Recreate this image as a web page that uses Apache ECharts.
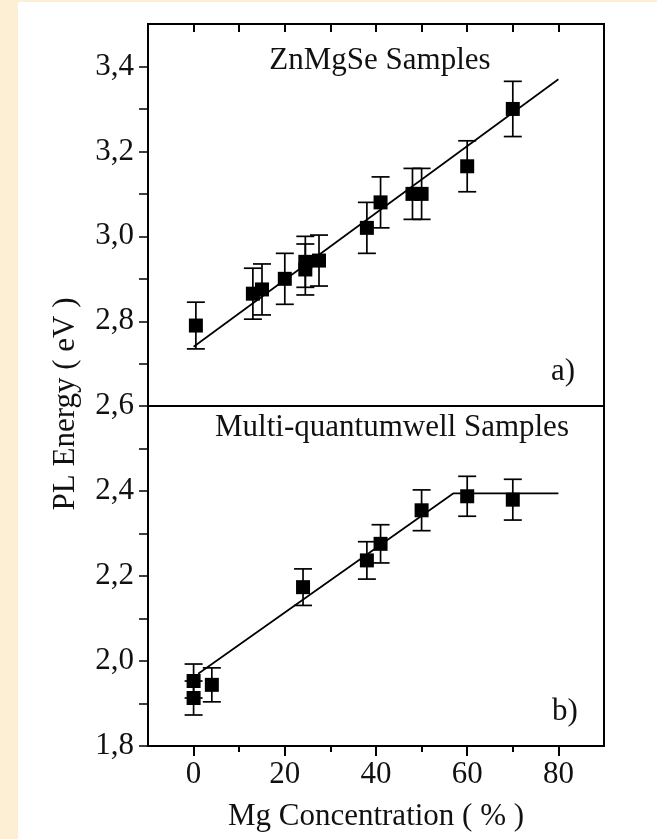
<!DOCTYPE html>
<html>
<head>
<meta charset="utf-8">
<script src="https://cdn.jsdelivr.net/npm/echarts@6/dist/echarts.min.js"></script>
<style>
  html, body { margin: 0; padding: 0; background: #fcefd3; width: 657px; height: 839px; overflow: hidden; }
  #chart { position: absolute; left: 18px; top: 2px; width: 639px; height: 837px; background: #ffffff; }
</style>
</head>
<body>
<div id="chart"></div>
<script>
// ---- Data ----
// Panel a) ZnMgSe samples
const xZn   = [0.5, 13, 15, 20, 24.5, 24.5, 27.5, 38, 41, 48, 50, 60, 70];
const yZn   = [2.79, 2.865, 2.875, 2.90, 2.922, 2.94, 2.943, 3.02, 3.08, 3.10, 3.10, 3.165, 3.30];
const errZn = [0.055, 0.06, 0.06, 0.06, 0.06, 0.06, 0.06, 0.06, 0.06, 0.06, 0.06, 0.06, 0.065];
const fitZnX = [0, 80];
const fitZnY = [2.74, 3.37];

// Panel b) Multi-quantumwell samples
const xMqw   = [0, 0, 4, 24, 38, 41, 50, 60, 70];
const yMqw   = [1.953, 1.913, 1.944, 2.174, 2.237, 2.276, 2.355, 2.388, 2.380];
const errMqw = [0.04, 0.04, 0.04, 0.043, 0.044, 0.045, 0.048, 0.047, 0.048];
const fitMqwX = [1, 57, 80];
const fitMqwY = [1.97, 2.395, 2.395];

// Panel divider
const dividerY = 2.6;

// Axes ticks
const xTickLabels = [0, 20, 40, 60, 80];
const xMinorTicks = [10, 30, 50, 70];
const xTopTicks   = [0, 10, 20, 30, 40, 50, 60, 70, 80];
const yTickLabels = [1.8, 2.0, 2.2, 2.4, 2.6, 2.8, 3.0, 3.2, 3.4];
const yAllTicks   = [1.8, 1.9, 2.0, 2.1, 2.2, 2.3, 2.4, 2.5, 2.6, 2.7, 2.8, 2.9, 3.0, 3.1, 3.2, 3.3, 3.4];

// Texts
const titleA = 'ZnMgSe Samples';
const titleB = 'Multi-quantumwell Samples';
const tagA = 'a)';
const tagB = 'b)';
const xName = 'Mg Concentration ( % )';
const yName = 'PL Energy ( eV )';

// ---- Build ----
const FONT = '"Liberation Serif", "Times New Roman", serif';
const FS = 31;
const INK = '#111';
const pts = (xs, ys) => xs.map((x, i) => [x, ys[i]]);
const errs = (xs, ys, es) => xs.map((x, i) => [x, ys[i] - es[i], ys[i] + es[i]]);

function errRender(params, api) {
  const x = api.value(0);
  const lo = api.coord([x, api.value(1)]);
  const hi = api.coord([x, api.value(2)]);
  const w = 9;
  const st = { stroke: '#000', lineWidth: 1.7 };
  return {
    type: 'group',
    children: [
      { type: 'line', shape: { x1: lo[0], y1: lo[1], x2: hi[0], y2: hi[1] }, style: st },
      { type: 'line', shape: { x1: hi[0] - w, y1: hi[1], x2: hi[0] + w, y2: hi[1] }, style: st },
      { type: 'line', shape: { x1: lo[0] - w, y1: lo[1], x2: lo[0] + w, y2: lo[1] }, style: st }
    ]
  };
}

const chart = echarts.init(document.getElementById('chart'), null, { renderer: 'canvas' });
const fmt = v => Number(v).toFixed(1).replace('.', ',');
const txt = (text, x, y, extra) => Object.assign({
  type: 'text', x: x, y: y,
  style: { text: text, font: FS + 'px ' + FONT, fill: INK, align: 'center', verticalAlign: 'middle' }
}, extra || {});

const option = {
  backgroundColor: '#ffffff',
  animation: false,
  textStyle: { fontFamily: FONT, color: INK },
  grid: { left: 130, right: 53, top: 22, bottom: 93, show: true, borderColor: '#000', borderWidth: 2, backgroundColor: 'transparent' },
  xAxis: [
    {
      type: 'value', min: -10, max: 90, position: 'bottom',
      axisLine: { show: true, onZero: false, lineStyle: { color: '#000', width: 2 } },
      axisTick: { show: true, inside: false, length: 10, customValues: xTickLabels, lineStyle: { color: '#000', width: 2 } },
      axisLabel: { customValues: xTickLabels, margin: 13, fontFamily: FONT, fontSize: FS, color: INK },
      splitLine: { show: false },
      name: xName, nameLocation: 'middle', nameGap: 55,
      nameTextStyle: { fontFamily: FONT, fontSize: FS, color: INK }
    },
    {
      type: 'value', min: -10, max: 90, position: 'bottom',
      axisLine: { show: false, onZero: false },
      axisTick: { show: true, inside: false, length: 6, customValues: xMinorTicks, lineStyle: { color: '#000', width: 2 } },
      axisLabel: { show: false },
      splitLine: { show: false }
    },
    {
      type: 'value', min: -10, max: 90, position: 'top',
      axisLine: { show: true, onZero: false, lineStyle: { color: '#000', width: 2 } },
      axisTick: { show: true, inside: true, length: 8, customValues: xTopTicks, lineStyle: { color: '#000', width: 2 } },
      axisLabel: { show: false },
      splitLine: { show: false }
    }
  ],
  yAxis: [
    {
      type: 'value', min: 1.8, max: 3.5, position: 'left',
      axisLine: { show: true, onZero: false, lineStyle: { color: '#000', width: 2 } },
      axisTick: { show: true, inside: false, length: 9, customValues: yAllTicks, lineStyle: { color: '#000', width: 1.5 } },
      axisLabel: { customValues: yTickLabels, formatter: fmt, margin: 14, fontFamily: FONT, fontSize: FS, color: INK },
      splitLine: { show: false }
    }
  ],
  series: [
    {
      type: 'line', data: pts(fitZnX, fitZnY),
      symbol: 'none', lineStyle: { color: '#000', width: 1.7 }, z: 2,
      markLine: {
        silent: true, symbol: 'none', label: { show: false },
        lineStyle: { color: '#000', width: 2, type: 'solid' },
        data: [{ yAxis: dividerY }]
      }
    },
    {
      type: 'line', data: pts(fitMqwX, fitMqwY),
      symbol: 'none', lineStyle: { color: '#000', width: 1.7 }, z: 2
    },
    { type: 'custom', renderItem: errRender, data: errs(xZn, yZn, errZn), z: 3, encode: { x: 0, y: [1, 2] } },
    { type: 'custom', renderItem: errRender, data: errs(xMqw, yMqw, errMqw), z: 3, encode: { x: 0, y: [1, 2] } },
    {
      type: 'scatter', data: pts(xZn, yZn), symbol: 'rect', symbolSize: 14,
      itemStyle: { color: '#000', opacity: 1 }, z: 4
    },
    {
      type: 'scatter', data: pts(xMqw, yMqw), symbol: 'rect', symbolSize: 14,
      itemStyle: { color: '#000', opacity: 1 }, z: 4
    }
  ],
  graphic: [
    txt(titleA, 362, 59),
    txt(titleB, 374, 426),
    txt(tagA, 545, 370),
    txt(tagB, 547, 710),
    txt(yName, 48, 402, { rotation: Math.PI / 2 })
  ]
};
chart.setOption(option);
</script>
</body>
</html>
